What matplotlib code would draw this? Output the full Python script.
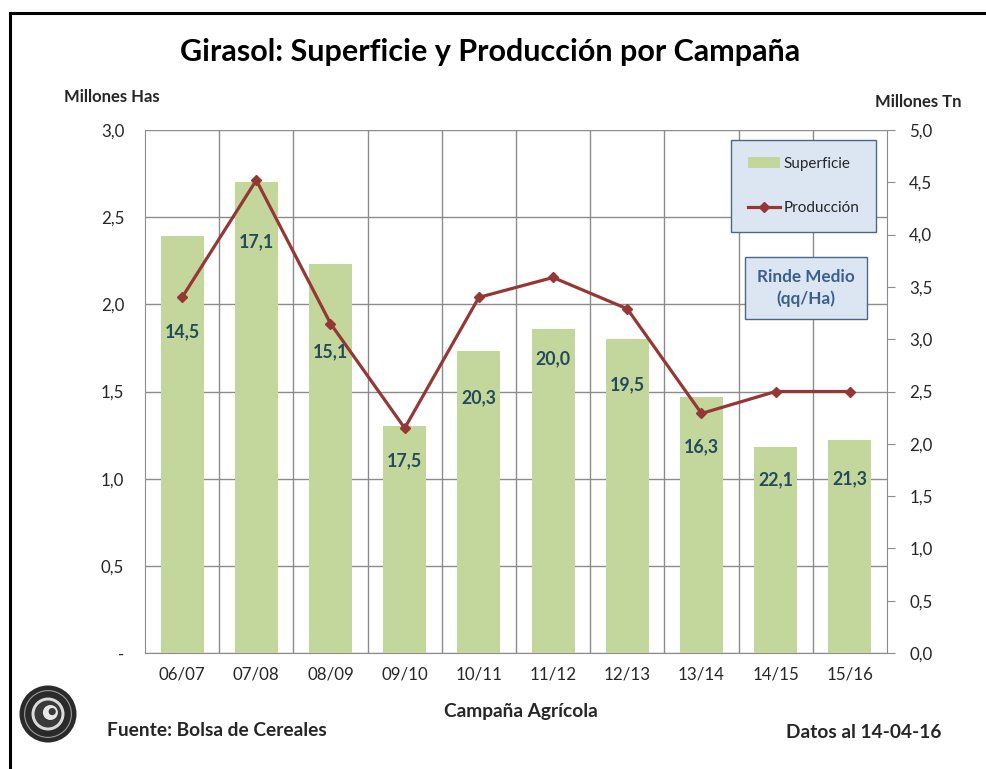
import matplotlib
matplotlib.use("Agg")
import matplotlib.pyplot as plt
from matplotlib.patches import Circle, Patch
from matplotlib.lines import Line2D

plt.rcParams['font.family'] = ['Lato', 'DejaVu Sans']

campanas = ["06/07", "07/08", "08/09", "09/10", "10/11", "11/12", "12/13", "13/14", "14/15", "15/16"]
superficie = [2.39, 2.70, 2.23, 1.30, 1.73, 1.86, 1.80, 1.47, 1.18, 1.22]
produccion = [3.40, 4.52, 3.15, 2.15, 3.40, 3.59, 3.29, 2.29, 2.50, 2.50]
rinde = ["14,5", "17,1", "15,1", "17,5", "20,3", "20,0", "19,5", "16,3", "22,1", "21,3"]
rinde_label_y = [3.07, 3.93, 2.88, 1.84, 2.44, 2.81, 2.56, 1.97, 1.66, 1.67]
left_ticks = [0, 0.5, 1.0, 1.5, 2.0, 2.5, 3.0]
left_ticklabels = ["-", "0,5", "1,0", "1,5", "2,0", "2,5", "3,0"]
right_ticks = [0, 0.5, 1.0, 1.5, 2.0, 2.5, 3.0, 3.5, 4.0, 4.5, 5.0]
right_ticklabels = ["0,0", "0,5", "1,0", "1,5", "2,0", "2,5", "3,0", "3,5", "4,0", "4,5", "5,0"]

W, H = 987, 769
fig = plt.figure(figsize=(W / 100, H / 100), dpi=100)

def fx(px):
    return px / W

def fy(py):
    return 1 - py / H

BAR = "#C3D69B"
LINE = "#953735"
GRID = "#8C8C8C"
TXT = "#262626"
LAB = "#244B5C"
TICKFS = 12.2

ax = fig.add_axes([fx(145), fy(653), fx(887) - fx(145), fy(130) - fy(653)])
x = list(range(len(campanas)))
ax.bar(x, superficie, width=0.58, color=BAR, zorder=3)
ax.set_xlim(-0.5, len(campanas) - 0.5)
ax.set_ylim(0, 3.0)
ax.set_yticks(left_ticks)
ax.set_yticklabels(left_ticklabels)
ax.set_xticks(x)
ax.set_xticklabels(campanas)
ax.set_xticks([i + 0.5 for i in range(len(campanas) - 1)], minor=True)
ax.grid(True, axis='y', which='major', color=GRID, lw=1.0, zorder=0)
ax.grid(True, axis='x', which='minor', color=GRID, lw=1.0, zorder=0)
ax.tick_params(axis='x', which='both', length=0, pad=10, labelsize=TICKFS, labelcolor=TXT)
ax.tick_params(axis='y', length=0, pad=15, labelsize=TICKFS, labelcolor=TXT)
for s in ['top', 'right']:
    ax.spines[s].set_visible(False)
ax.spines['left'].set_color(GRID)
ax.spines['bottom'].set_color(GRID)
ax.set_axisbelow(True)

ax2 = ax.twinx()
ax2.plot(x, produccion, color=LINE, lw=2.3, marker='D', markersize=5,
         markerfacecolor=LINE, markeredgecolor=LINE, zorder=5)
ax2.set_ylim(0, 5.0)
ax2.set_yticks(right_ticks)
ax2.set_yticklabels(right_ticklabels)
ax2.tick_params(axis='y', direction='out', length=6, color=GRID, pad=10,
                labelsize=TICKFS, labelcolor=TXT)
for s in ['top', 'left', 'bottom']:
    ax2.spines[s].set_visible(False)
ax2.spines['right'].set_color(GRID)

for xi, lab, ly in zip(x, rinde, rinde_label_y):
    ax2.text(xi, ly, lab, ha='center', va='center', fontsize=12.8,
             fontweight='bold', color=LAB, zorder=6)

handles = [Patch(facecolor=BAR, edgecolor='none'),
           Line2D([0], [0], color=LINE, lw=2.3, marker='D', markersize=5)]
leg = fig.legend(handles, ["Superficie", "Producción"], loc='upper left',
                 bbox_to_anchor=(fx(731), fy(140)), bbox_transform=fig.transFigure,
                 borderaxespad=0, frameon=True, fancybox=False, fontsize=11,
                 labelspacing=2.0, handlelength=2.1, handletextpad=0.25,
                 borderpad=1.1, framealpha=1)
leg.get_frame().set_facecolor("#DCE6F2")
leg.get_frame().set_edgecolor("#4A6788")
leg.get_frame().set_linewidth(1.0)
for t in leg.get_texts():
    t.set_color(TXT)

fig.text(fx(806), fy(288), "Rinde Medio\n(qq/Ha)", ha='center', va='center',
         fontsize=12.3, fontweight='bold', color="#3A5F8F", linespacing=1.45,
         bbox=dict(boxstyle='square,pad=0.7', facecolor="#DCE6F2", edgecolor="#4A6788", lw=1.0))

fig.text(fx(490), fy(52), "Girasol: Superficie y Producción por Campaña", ha='center',
         va='center', fontsize=22, fontweight='bold', color='black')
fig.text(fx(112), fy(97), "Millones Has", ha='center', va='center', fontsize=12,
         fontweight='bold', color=TXT)
fig.text(fx(918), fy(102), "Millones Tn", ha='center', va='center', fontsize=12,
         fontweight='bold', color=TXT)
fig.text(fx(521), fy(711), "Campaña Agrícola", ha='center', va='center', fontsize=13.8,
         fontweight='bold', color=TXT)
fig.text(fx(107), fy(731), "Fuente: Bolsa de Cereales", ha='left', va='center',
         fontsize=13.8, fontweight='bold', color=TXT)
fig.text(fx(941), fy(733), "Datos al 14-04-16", ha='right', va='center',
         fontsize=13.8, fontweight='bold', color=TXT)

# logo
lax = fig.add_axes([fx(18), fy(744), fx(60), fy(684) - fy(744)])
lax.set_xlim(-1, 1)
lax.set_ylim(-1, 1)
lax.set_aspect('equal')
lax.axis('off')
lax.add_patch(Circle((0, 0), 0.95, facecolor='#2A2A2A', edgecolor='none'))
lax.add_patch(Circle((0, 0), 0.78, facecolor='none', edgecolor='#9A9A9A', lw=0.8))
lax.add_patch(Circle((0, 0), 0.55, facecolor='#DADADA', edgecolor='none'))
lax.add_patch(Circle((0, 0), 0.45, facecolor='#3A3A3A', edgecolor='none'))
lax.add_patch(Circle((0.08, 0.05), 0.25, facecolor='#E8E8E8', edgecolor='none'))
lax.add_patch(Circle((0.14, 0.08), 0.12, facecolor='#3A3A3A', edgecolor='none'))

# outer frame (left and top)
fig.add_artist(Line2D([fx(10), fx(10)], [fy(13), 0], transform=fig.transFigure,
                      color='black', lw=2.2))
fig.add_artist(Line2D([fx(10), 1], [fy(13), fy(13)], transform=fig.transFigure,
                      color='black', lw=2.2))

fig.savefig("out.png", dpi=100)
